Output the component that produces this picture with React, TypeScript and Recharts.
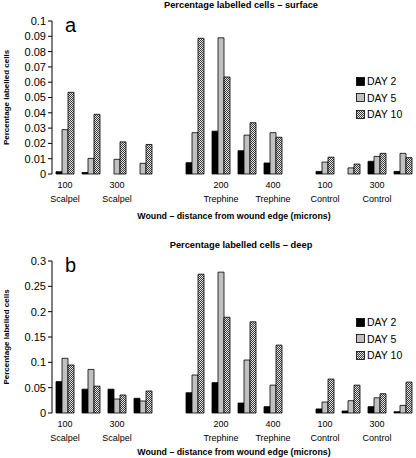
import React from 'react';
import { BarChart, Bar, XAxis, YAxis, Legend } from 'recharts';

const FONT = '"Liberation Sans", Arial, sans-serif';

// wound groups: 4 distances per wound type, an empty slot between groups
const distances = ['100', '200', '300', '400', '', '100', '200', '300', '400', '', '100', '200', '300', '400'];
const wounds = ['Scalpel', 'Scalpel', 'Scalpel', 'Scalpel', '', 'Trephine', 'Trephine', 'Trephine', 'Trephine', '', 'Control', 'Control', 'Control', 'Control'];
const seriesNames = ['DAY 2', 'DAY 5', 'DAY 10'];

const surfaceDay2 = [0.0015, 0.001, 0, 0, null, 0.0074, 0.028, 0.0152, 0.0072, null, 0.0017, 0, 0.0083, 0.0017];
const surfaceDay5 = [0.029, 0.0102, 0.0096, 0.007, null, 0.027, 0.089, 0.0254, 0.027, null, 0.0078, 0.004, 0.0115, 0.0135];
const surfaceDay10 = [0.0534, 0.039, 0.021, 0.0193, null, 0.0887, 0.0634, 0.0335, 0.024, null, 0.011, 0.0065, 0.0135, 0.0107];

const deepDay2 = [0.062, 0.047, 0.047, 0.029, null, 0.04, 0.06, 0.0197, 0.0125, null, 0.008, 0.004, 0.0125, 0.0026];
const deepDay5 = [0.108, 0.086, 0.0276, 0.0237, null, 0.075, 0.278, 0.1046, 0.055, null, 0.0217, 0.0243, 0.03, 0.015];
const deepDay10 = [0.0947, 0.053, 0.0355, 0.0434, null, 0.274, 0.189, 0.18, 0.134, null, 0.067, 0.055, 0.038, 0.061];

const surfaceTicks = [0, 0.01, 0.02, 0.03, 0.04, 0.05, 0.06, 0.07, 0.08, 0.09, 0.1];
const deepTicks = [0, 0.05, 0.1, 0.15, 0.2, 0.25, 0.3];
const edgeTicks = [0, 1, 2, 3, 4, 5, 6, 7, 8, 9, 10, 11, 12, 13, 14];

const buildRows = (d2: (number | null)[], d5: (number | null)[], d10: (number | null)[]) =>
  distances.map((d, i) => ({
    name: d ? `${d} ${wounds[i]}` : `gap${i}`,
    day2: d2[i],
    day5: d5[i],
    day10: d10[i],
  }));

const surfaceData = buildRows(surfaceDay2, surfaceDay5, surfaceDay10);
const deepData = buildRows(deepDay2, deepDay5, deepDay10);

const fmt = (v: number) => (v === 0 ? '0' : String(Number(v.toFixed(2))));

const WoundTick = (props: any) => {
  const { x, y, payload } = props;
  const i = payload.index;
  if (!distances[i]) return <g />;
  return (
    <g>
      <text x={x} y={y} textAnchor="middle" fontSize={9} fontFamily={FONT} fill="#000">
        <tspan x={x} dy={14}>{distances[i]}</tspan>
        <tspan x={x} dy={13.5}>{wounds[i]}</tspan>
      </text>
    </g>
  );
};

interface PanelProps {
  data: any[];
  ticks: number[];
  max: number;
  letter: string;
  title: string;
  height: number;
  marginTop: number;
  axisHeight: number;
  titleTop: number;
  legendTop: number;
  xTitleDy: number;
  letterTop: number;
  patternId: string;
}

const Panel: React.FC<PanelProps> = (p) => {
  const fills = ['#000000', '#c0c0c0', `url(#${p.patternId})`];
  return (
    <div style={{ position: 'relative', width: 416, height: p.height }}>
      <div style={{ position: 'absolute', left: 91, width: 300, top: p.titleTop, textAlign: 'center', fontFamily: FONT, fontWeight: 'bold', fontSize: 9.3, lineHeight: '10px' }}>
        {p.title}
      </div>
      <div style={{ position: 'absolute', left: 65, top: p.letterTop, fontFamily: FONT, fontSize: 20, lineHeight: '20px' }}>
        {p.letter}
      </div>
      <BarChart
        width={416}
        height={p.height}
        data={p.data}
        margin={{ top: p.marginTop, right: 0, left: 0, bottom: 0 }}
        barCategoryGap={4}
        barGap={0}
      >
        <defs>
          <pattern id={p.patternId} width={2} height={2} patternUnits="userSpaceOnUse">
            <rect width={2} height={2} fill="#e6e6e6" />
            <rect width={1} height={1} fill="#3a3a3a" />
            <rect x={1} y={1} width={1} height={1} fill="#3a3a3a" />
          </pattern>
        </defs>
        <XAxis
          xAxisId="edges"
          type="number"
          domain={[0, 14]}
          ticks={edgeTicks}
          height={0}
          tickSize={4}
          allowDataOverflow
          tickFormatter={() => ''}
          axisLine={{ stroke: '#000' }}
          tickLine={{ stroke: '#000' }}
        />
        <XAxis
          xAxisId="cat"
          dataKey="name"
          interval={1}
          height={p.axisHeight}
          axisLine={false}
          tickLine={false}
          tickSize={0}
          tickMargin={0}
          tick={<WoundTick />}
          label={{
            content: (lp: any) => {
              const vb = lp.viewBox;
              return (
                <text x={vb.x + vb.width / 2} y={vb.y + p.xTitleDy} textAnchor="middle" fontSize={8.8} fontWeight="bold" fontFamily={FONT} fill="#000">
                  Wound – distance from wound edge (microns)
                </text>
              );
            },
          }}
        />
        <YAxis
          width={52}
          domain={[0, p.max]}
          ticks={p.ticks}
          interval={0}
          tickSize={4}
          tickMargin={2}
          tickFormatter={fmt}
          axisLine={{ stroke: '#000' }}
          tickLine={{ stroke: '#000' }}
          tick={{ fontSize: 11, fontFamily: FONT, fill: '#000' }}
          label={{
            content: (lp: any) => {
              const vb = lp.viewBox;
              const cx = 6;
              const cy = vb.y + vb.height / 2;
              return (
                <text x={cx} y={cy} transform={`rotate(-90, ${cx}, ${cy})`} textAnchor="middle" dominantBaseline="central" fontSize={8} fontWeight="bold" fontFamily={FONT} fill="#000">
                  Percentage labelled cells
                </text>
              );
            },
          }}
        />
        <Legend
          layout="vertical"
          align="center"
          verticalAlign="middle"
          wrapperStyle={{ position: 'absolute', left: 356, top: p.legendTop, width: 60 }}
          content={() => (
            <div style={{ fontFamily: FONT, fontSize: 10.5 }}>
              {seriesNames.map((n, i) => (
                <div key={n} style={{ display: 'flex', alignItems: 'center', height: 16.5 }}>
                  <svg width={9} height={9} style={{ display: 'block' }}>
                    <rect x={0.5} y={0.5} width={8} height={8} fill={fills[i]} stroke="#000" strokeWidth={0.8} />
                  </svg>
                  <span style={{ marginLeft: 2 }}>{n}</span>
                </div>
              ))}
            </div>
          )}
        />
        <Bar xAxisId="cat" dataKey="day2" name={seriesNames[0]} fill={fills[0]} stroke="#000" strokeWidth={0.8} isAnimationActive={false} />
        <Bar xAxisId="cat" dataKey="day5" name={seriesNames[1]} fill={fills[1]} stroke="#000" strokeWidth={0.8} isAnimationActive={false} />
        <Bar xAxisId="cat" dataKey="day10" name={seriesNames[2]} fill={fills[2]} stroke="#000" strokeWidth={0.8} isAnimationActive={false} />
      </BarChart>
    </div>
  );
};

export default function App() {
  return (
    <div style={{ position: 'absolute', left: 0, top: 0, width: 416, height: 458, background: '#fff' }}>
      <Panel
        data={surfaceData}
        ticks={surfaceTicks}
        max={0.1}
        letter="a"
        title="Percentage labelled cells – surface"
        height={229}
        marginTop={21}
        axisHeight={55}
        titleTop={0}
        legendTop={73}
        xTitleDy={45}
        letterTop={15}
        patternId="hatchA"
      />
      <Panel
        data={deepData}
        ticks={deepTicks}
        max={0.3}
        letter="b"
        title="Percentage labelled cells – deep"
        height={229}
        marginTop={32}
        axisHeight={45}
        titleTop={11}
        legendTop={85}
        xTitleDy={42}
        letterTop={26}
        patternId="hatchB"
      />
    </div>
  );
}
